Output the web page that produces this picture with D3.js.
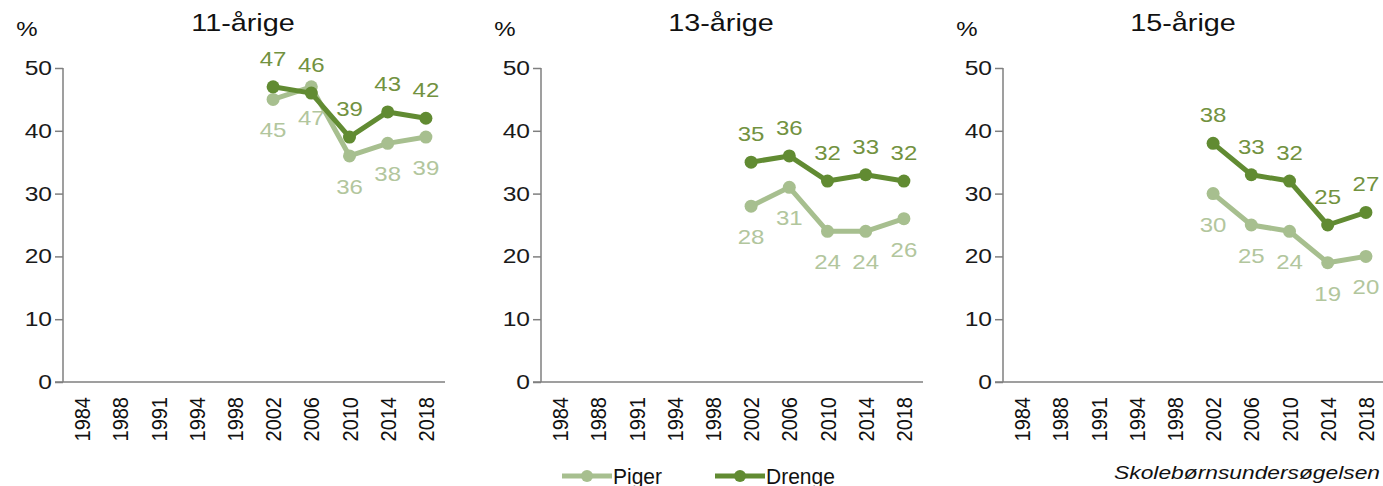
<!DOCTYPE html>
<html>
<head>
<meta charset="utf-8">
<script src="https://cdn.jsdelivr.net/npm/d3@7"></script>
<style>
  body { margin: 0; background: #fff; }
  text { font-family: "Liberation Sans", Arial, sans-serif; }
</style>
</head>
<body>
<div id="chart-area"></div>
<script>
// SVG Size
var width = 1383,
    height = 486;

// Data
var years = ["1984", "1988", "1991", "1994", "1998", "2002", "2006", "2010", "2014", "2018"];
var dataYears = ["2002", "2006", "2010", "2014", "2018"];
var panelTitles = ["11-årige", "13-årige", "15-årige"];
var pigerValues = [
  [45, 47, 36, 38, 39],
  [28, 31, 24, 24, 26],
  [30, 25, 24, 19, 20]
];
var drengeValues = [
  [47, 46, 39, 43, 42],
  [35, 36, 32, 33, 32],
  [38, 33, 32, 25, 27]
];
var yTicks = [0, 10, 20, 30, 40, 50];
var seriesNames = ["Piger", "Drenge"];
var source = "Skolebørnsundersøgelsen";

var pigerColor = "#a7bf8f",
    drengeColor = "#618b32",
    pigerLabel = "#b2c69d",
    drengeLabel = "#72923f";

// the source picture is a bit wider than tall, so text is stretched sideways
var stretch = 1.2;

var svg = d3.select("#chart-area").append("svg")
    .attr("width", width)
    .attr("height", height);

// place a horizontally stretched text
function addText(parent, x, y, str, size, anchor, fill) {
  return parent.append("text")
    .attr("transform", "translate(" + x + "," + y + ") scale(" + stretch + ",1)")
    .attr("text-anchor", anchor)
    .attr("font-size", size)
    .attr("fill", fill)
    .text(str);
}

var panelLeft = [63, 541, 1003],
    panelWidth = 382,
    plotTop = 68,
    plotBottom = 382;

var y = d3.scaleLinear().domain([0, 50]).range([plotBottom, plotTop]);

panelTitles.forEach(function(title, i) {
  var x0 = panelLeft[i];
  var x = d3.scaleBand().domain(years).range([x0, x0 + panelWidth]);
  var g = svg.append("g");

  // title and unit
  addText(g, x0 + 180, 31, title, 24, "middle", "#111");
  addText(g, x0 - 36, 36, "%", 20, "middle", "#111");

  // y axis
  var yAxis = g.append("g").attr("transform", "translate(" + x0 + ",0)")
    .call(d3.axisLeft(y).tickValues(yTicks).tickSize(8).tickFormat(""));
  yAxis.selectAll("line, path").attr("stroke", "#7f7f7f").attr("stroke-width", 1.5);
  yAxis.select(".domain").attr("d", "M0," + plotTop + "V" + plotBottom);
  yTicks.forEach(function(t) {
    addText(g, x0 - 11, y(t) + 7, t, 20.5, "end", "#1a1a1a");
  });

  // x axis
  var xAxis = g.append("g").attr("transform", "translate(0," + plotBottom + ")")
    .call(d3.axisBottom(x).tickSize(0).tickPadding(0));
  xAxis.select(".domain").attr("stroke", "#7f7f7f").attr("stroke-width", 1.5)
    .attr("d", "M" + (x0 - 8) + ",0H" + (x0 + panelWidth));
  xAxis.selectAll("text")
    .attr("font-size", 20).attr("fill", "#111")
    .style("font-family", "Liberation Sans, Arial, sans-serif")
    .attr("text-anchor", "end")
    .attr("dy", "0.36em")
    .attr("transform", "translate(0,15) rotate(-90) scale(1,1.12)");

  var cx = function(k) { return x(dataYears[k]) + x.bandwidth() / 2; };
  var line = d3.line()
    .x(function(d, k) { return cx(k); })
    .y(function(d) { return y(d); });

  var series = [
    { vals: pigerValues[i], color: pigerColor, lab: pigerLabel, dy: 38 },
    { vals: drengeValues[i], color: drengeColor, lab: drengeLabel, dy: -21 }
  ];
  series.forEach(function(s) {
    g.append("path").datum(s.vals)
      .attr("d", line).attr("fill", "none")
      .attr("stroke", s.color).attr("stroke-width", 5)
      .attr("stroke-linejoin", "round");
    g.selectAll(null).data(s.vals).enter().append("circle")
      .attr("cx", function(d, k) { return cx(k); })
      .attr("cy", function(d) { return y(d); })
      .attr("r", 6.5).attr("fill", s.color);
  });
  series.forEach(function(s) {
    s.vals.forEach(function(d, k) {
      addText(g, cx(k), y(d) + s.dy, d, 20, "middle", s.lab);
    });
  });
});

// legend
var legendX = [562, 715];
var legendColors = [pigerColor, drengeColor];
seriesNames.forEach(function(name, i) {
  var lx = legendX[i], ly = 476;
  svg.append("line").attr("x1", lx).attr("x2", lx + 50)
    .attr("y1", ly).attr("y2", ly)
    .attr("stroke", legendColors[i]).attr("stroke-width", 5);
  svg.append("circle").attr("cx", lx + 25).attr("cy", ly).attr("r", 6)
    .attr("fill", legendColors[i]);
  addText(svg, lx + 51, ly + 8, name, 21, "start", "#111")
    .attr("transform", "translate(" + (lx + 51) + "," + (ly + 8) + ") scale(1,1.05)");
});

addText(svg, 1380, 479, source, 19, "end", "#111")
  .attr("font-style", "italic");
</script>
</body>
</html>
